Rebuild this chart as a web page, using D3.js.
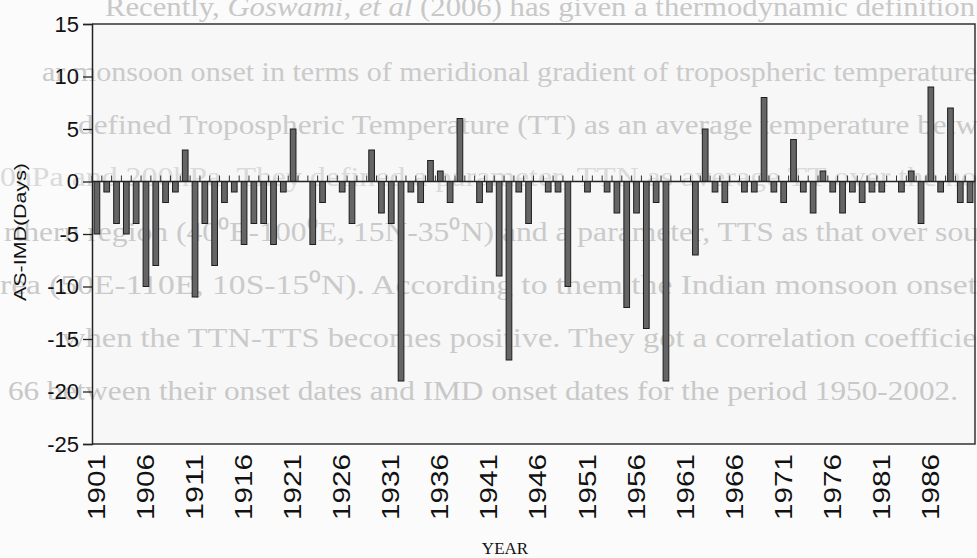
<!DOCTYPE html>
<html>
<head>
<meta charset="utf-8">
<script src="https://cdn.jsdelivr.net/npm/d3@7"></script>
<style>
  html, body { margin: 0; padding: 0; background: #fbfbfb; }
  svg { display: block; }
</style>
</head>
<body>
<svg id="chart" width="977" height="558"></svg>
<script>
// Monsoon onset difference, AS minus IMD onset date (days), 1901-1990
const years = [
  1901,1902,1903,1904,1905,1906,1907,1908,1909,1910,
  1911,1912,1913,1914,1915,1916,1917,1918,1919,1920,
  1921,1922,1923,1924,1925,1926,1927,1928,1929,1930,
  1931,1932,1933,1934,1935,1936,1937,1938,1939,1940,
  1941,1942,1943,1944,1945,1946,1947,1948,1949,1950,
  1951,1952,1953,1954,1955,1956,1957,1958,1959,1960,
  1961,1962,1963,1964,1965,1966,1967,1968,1969,1970,
  1971,1972,1973,1974,1975,1976,1977,1978,1979,1980,
  1981,1982,1983,1984,1985,1986,1987,1988,1989,1990
];
const onsetDiff = [
  -5,-1,-4,-5,-4,-10,-8,-2,-1,3,
  -11,-4,-8,-2,-1,-6,-4,-4,-6,-1,
  5,0,-6,-2,0,-1,-4,0,3,-3,
  -4,-19,-1,-2,2,1,-2,6,0,-2,
  -1,-9,-17,-1,-4,0,-1,-1,-10,0,
  -1,0,-1,-3,-12,-3,-14,-2,-19,0,
  0,-7,5,-1,-2,0,-1,-1,8,-1,
  -2,4,-1,-3,1,-1,-3,-1,-2,-1,
  -1,0,-1,1,-4,9,-1,7,-2,-2
];
const xTickYears = [1901,1906,1911,1916,1921,1926,1931,1936,1941,1946,1951,1956,1961,1966,1971,1976,1981,1986];
const yTicks = [15,10,5,0,-5,-10,-15,-20,-25];
const yTitle = "AS-IMD(Days)";
const xTitle = "YEAR";

// faint text from the facing page, printed behind the figure
// each line: list of [text, italic] runs
const backdropLines = [
  [["Recently, ", 0], ["Goswami, et al", 1], [" (2006) has given a thermodynamic definition", 0]],
  [["ar monsoon onset in terms of meridional gradient of tropospheric temperature", 0]],
  [["defined Tropospheric Temperature (TT) as an average temperature betw", 0]],
  [["0hPa and 200hPa. They defined a parameter, TTN as average TT over the no", 0]],
  [["rthern region (40\u2070E-100\u2070E, 15N-35\u2070N) and a parameter, TTS as that over sou", 0]],
  [["rea (50E-110E, 10S-15\u2070N). According to them the Indian monsoon onset", 0]],
  [["when the TTN-TTS becomes positive. They got a correlation coefficie", 0]],
  [["66 between their onset dates and IMD onset dates for the period 1950-2002.", 0]]
];
const backdropX = [105, 42, 78, 0, 4, 0, 62, 8];
const backdropY = [16, 81, 134, 186, 241, 294, 347, 400];
const backdropW = [870, 935, 900, 977, 975, 977, 915, 950];
const backdropTone = ["#c8c8c8", "#cacaca", "#cacaca", "#dadada", "#cacaca", "#cacaca", "#cacaca", "#c8c8c8"];

const plot = { left: 92, right: 975, top: 24, bottom: 444 };

const svg = d3.select("#chart");

const x = d3.scaleBand().domain(years).range([plot.left, plot.right]).padding(0);
const y = d3.scaleLinear().domain([-25, 15]).range([plot.bottom, plot.top]);

// plot area
svg.append("rect")
  .attr("x", plot.left).attr("y", plot.top)
  .attr("width", plot.right - plot.left).attr("height", plot.bottom - plot.top)
  .attr("fill", "#f7f7f7");

// backdrop text
const back = svg.append("g")
  .selectAll("text")
  .data(backdropLines)
  .join("text")
  .attr("x", (d, i) => backdropX[i])
  .attr("y", (d, i) => backdropY[i])
  .attr("textLength", (d, i) => backdropW[i])
  .attr("lengthAdjust", "spacingAndGlyphs")
  .attr("font-family", "'Liberation Serif', serif")
  .attr("font-size", 28)
  .attr("fill", (d, i) => backdropTone[i]);
back.selectAll("tspan")
  .data(d => d)
  .join("tspan")
  .attr("font-style", d => d[1] ? "italic" : "normal")
  .text(d => d[0]);

// plot border (top, right, bottom)
svg.append("path")
  .attr("d", `M${plot.left},${plot.top}H${plot.right}V${plot.bottom}H${plot.left}`)
  .attr("fill", "none")
  .attr("stroke", "#333")
  .attr("stroke-width", 1.5);

// bars
const bw = x.bandwidth() * 0.58;
svg.append("g")
  .selectAll("rect")
  .data(years.map((yr, i) => ({ yr, v: onsetDiff[i] })).filter(d => d.v !== 0))
  .join("rect")
  .attr("x", d => x(d.yr) + (x.bandwidth() - bw) / 2)
  .attr("y", d => y(Math.max(0, d.v)))
  .attr("width", bw)
  .attr("height", d => Math.abs(y(d.v) - y(0)))
  .attr("fill", "#656565")
  .attr("stroke", "#1e1e1e")
  .attr("stroke-width", 1);

// category axis along zero with ticks at band edges
const y0 = y(0);
const edges = years.map(yr => x(yr)).concat([x(years[years.length - 1]) + x.bandwidth()]);
const zeroAxis = svg.append("g");
zeroAxis.append("line")
  .attr("x1", plot.left).attr("x2", plot.right)
  .attr("y1", y0).attr("y2", y0)
  .attr("stroke", "#222").attr("stroke-width", 1.3);
zeroAxis.selectAll("line.tk")
  .data(edges)
  .join("line")
  .attr("class", "tk")
  .attr("x1", d => d).attr("x2", d => d)
  .attr("y1", y0 - 6).attr("y2", y0)
  .attr("stroke", "#333").attr("stroke-width", 1);

// y axis
const yAxis = svg.append("g")
  .attr("transform", `translate(${plot.left},0)`)
  .call(d3.axisLeft(y).tickValues(yTicks).tickSize(9).tickPadding(4).tickFormat(d => String(d)));
yAxis.select(".domain").attr("stroke", "#222").attr("stroke-width", 1.5);
yAxis.selectAll(".tick line").attr("stroke", "#222").attr("stroke-width", 1.3);
yAxis.selectAll(".tick text")
  .attr("font-family", "'Liberation Sans', Arial, sans-serif")
  .attr("font-size", 22)
  .attr("fill", "#111");

// year labels under the plot
const xAxis = svg.append("g")
  .attr("transform", `translate(0,${plot.bottom})`)
  .call(d3.axisBottom(x).tickValues(xTickYears).tickSize(0).tickFormat(d => String(d)));
xAxis.select(".domain").remove();
xAxis.selectAll(".tick text")
  .attr("transform", "rotate(-90)")
  .attr("x", -76).attr("y", 0).attr("dy", "0.35em")
  .attr("text-anchor", "start")
  .attr("textLength", 66)
  .attr("lengthAdjust", "spacingAndGlyphs")
  .attr("font-family", "'Liberation Sans', Arial, sans-serif")
  .attr("font-size", 23)
  .attr("fill", "#111");

// axis titles
svg.append("text")
  .attr("transform", `translate(20,232) rotate(-90)`)
  .attr("text-anchor", "middle")
  .attr("dy", "0.35em")
  .attr("textLength", 138)
  .attr("lengthAdjust", "spacingAndGlyphs")
  .attr("font-family", "'Liberation Sans', Arial, sans-serif")
  .attr("font-size", 17)
  .attr("fill", "#111")
  .text(yTitle);

svg.append("text")
  .attr("x", 505).attr("y", 554)
  .attr("text-anchor", "middle")
  .attr("font-family", "'Liberation Serif', 'Times New Roman', serif")
  .attr("font-size", 17)
  .attr("fill", "#111")
  .text(xTitle);
</script>
</body>
</html>
